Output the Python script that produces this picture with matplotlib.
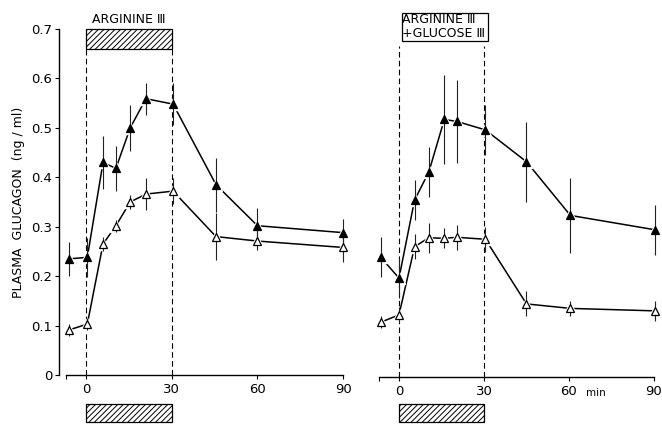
import matplotlib
matplotlib.use("Agg")
import matplotlib.pyplot as plt
from matplotlib.patches import Rectangle

plt.rcParams['font.family'] = ['DejaVu Sans']
plt.rcParams['hatch.linewidth'] = 0.7

# ---------------- data ----------------
left_time = [-6, 0.5, 6, 10.5, 15.5, 21, 30.5, 45.5, 60, 90]
left_filled = [0.235, 0.238, 0.430, 0.418, 0.500, 0.559, 0.548, 0.385, 0.302, 0.288]
left_filled_err = [0.035, 0.040, 0.053, 0.045, 0.046, 0.032, 0.042, 0.055, 0.035, 0.028]
left_open = [0.091, 0.103, 0.265, 0.302, 0.350, 0.366, 0.372, 0.280, 0.271, 0.258]
left_open_err = [0.012, 0.012, 0.015, 0.012, 0.015, 0.032, 0.027, 0.047, 0.018, 0.030]

right_time = [-6.5, 0, 5.5, 10.5, 16, 20.5, 30.5, 45, 60.5, 90.5]
right_filled = [0.241, 0.199, 0.356, 0.412, 0.518, 0.514, 0.497, 0.433, 0.325, 0.296]
right_filled_err = [0.040, 0.040, 0.040, 0.050, 0.090, 0.083, 0.050, 0.080, 0.075, 0.050]
right_open = [0.110, 0.125, 0.262, 0.280, 0.279, 0.281, 0.277, 0.147, 0.138, 0.133]
right_open_err = [0.012, 0.015, 0.025, 0.030, 0.020, 0.025, 0.025, 0.025, 0.015, 0.020]

x_ticks = [0, 30, 60, 90]
y_ticks = [0, 0.1, 0.2, 0.3, 0.4, 0.5, 0.6, 0.7]
y_tick_labels = ['0', '0.1', '0.2', '0.3', '0.4', '0.5', '0.6', '0.7']
infusion = (0, 30)

W, H = 662, 424
fig = plt.figure(figsize=(W / 100, H / 100), dpi=100)

def px_axes(x0_px, x1_px, y0_px, y1_px):
    return fig.add_axes([x0_px / W, 1 - y1_px / H, (x1_px - x0_px) / W, (y1_px - y0_px) / H])

# left: -9.4 min at px 59, 2.86 px/min ; y 0 at 375, 0.7 at 29
axL = px_axes(59, 59 + 101.4 * 2.86, 29, 375)
axL.set_xlim(-9.4, 92)
# right: 0 min at px 399, 2.833 px/min
axR = px_axes(399 - 9.4 * 2.833, 399 + 92 * 2.833, 29, 377)
axR.set_xlim(-9.4, 92)

def draw_series(ax, t, y, e, filled):
    ax.plot(t, y, color='black', lw=1.1, zorder=2)
    ax.plot(t, y, ls='none', marker='^', ms=8.5, mfc='white', mec='white', zorder=3)
    ax.errorbar(t, y, yerr=e, fmt='none', ecolor='#222222', elinewidth=0.8, capsize=0, zorder=4)
    ax.plot(t, y, ls='none', marker='^', ms=5.2,
            mfc='black' if filled else 'white', mec='black', mew=0.9, zorder=5)

for ax, (b0, b1) in ((axL, (-0.095, -0.059)), (axR, (-0.0915, -0.055))):
    ax.set_ylim(0, 0.7)
    for s in ('top', 'right'):
        ax.spines[s].set_visible(False)
    ax.spines['bottom'].set_bounds(-7, 90)
    ax.spines['bottom'].set_linewidth(1.0)
    ax.set_xticks(x_ticks)
    ax.set_xticks([-7], minor=True)
    ax.tick_params(axis='x', which='both', direction='out', length=3, width=0.8,
                   labelsize=9.5, pad=3)
    ax.patch.set_alpha(0)
    # hatched infusion bar below axis
    ax.add_patch(Rectangle((infusion[0], b0), infusion[1] - infusion[0], b1 - b0,
                           facecolor='white', edgecolor='black', hatch='//////',
                           lw=0.9, clip_on=False, zorder=1))

axL.spines['left'].set_linewidth(1.0)
axL.set_yticks(y_ticks)
axL.set_yticklabels(y_tick_labels)
axL.tick_params(axis='y', direction='out', length=3, width=0.8, labelsize=9.5, pad=2)
axL.set_ylabel('PLASMA  GLUCAGON  (ng / ml)', fontsize=9, labelpad=4)

axR.spines['left'].set_visible(False)
axR.set_yticks([])

draw_series(axL, left_time, left_filled, left_filled_err, True)
draw_series(axL, left_time, left_open, left_open_err, False)
draw_series(axR, right_time, right_filled, right_filled_err, True)
draw_series(axR, right_time, right_open, right_open_err, False)

# left top hatched bar and label
axL.add_patch(Rectangle((infusion[0], 0.659), infusion[1] - infusion[0], 0.041,
                        facecolor='white', edgecolor='black', hatch='//////',
                        lw=0.9, clip_on=False, zorder=2))
axL.text(15, 0.72, 'ARGININE Ⅲ', ha='center', va='center', fontsize=9, clip_on=False)
for xv in infusion:
    axL.plot([xv, xv], [0, 0.659], color='black', lw=0.8, ls=(0, (5, 3)), zorder=1)

# right box label
axR.add_patch(Rectangle((0.9, 0.675), 30.4, 0.058, facecolor='white',
                        edgecolor='black', lw=0.9, clip_on=False, zorder=2))
axR.text(1.1, 0.719, 'ARGININE Ⅲ', ha='left', va='center', fontsize=9, clip_on=False, zorder=3)
axR.text(1.1, 0.690, '+GLUCOSE Ⅲ', ha='left', va='center', fontsize=9, clip_on=False, zorder=3)
for xv in infusion:
    axR.plot([xv, xv], [0, 0.665], color='black', lw=0.8, ls=(0, (5, 3)), zorder=1)
axR.text(69.5, -0.033, 'min', ha='center', va='center', fontsize=7.5, clip_on=False)

fig.savefig('out.png', dpi=100)
